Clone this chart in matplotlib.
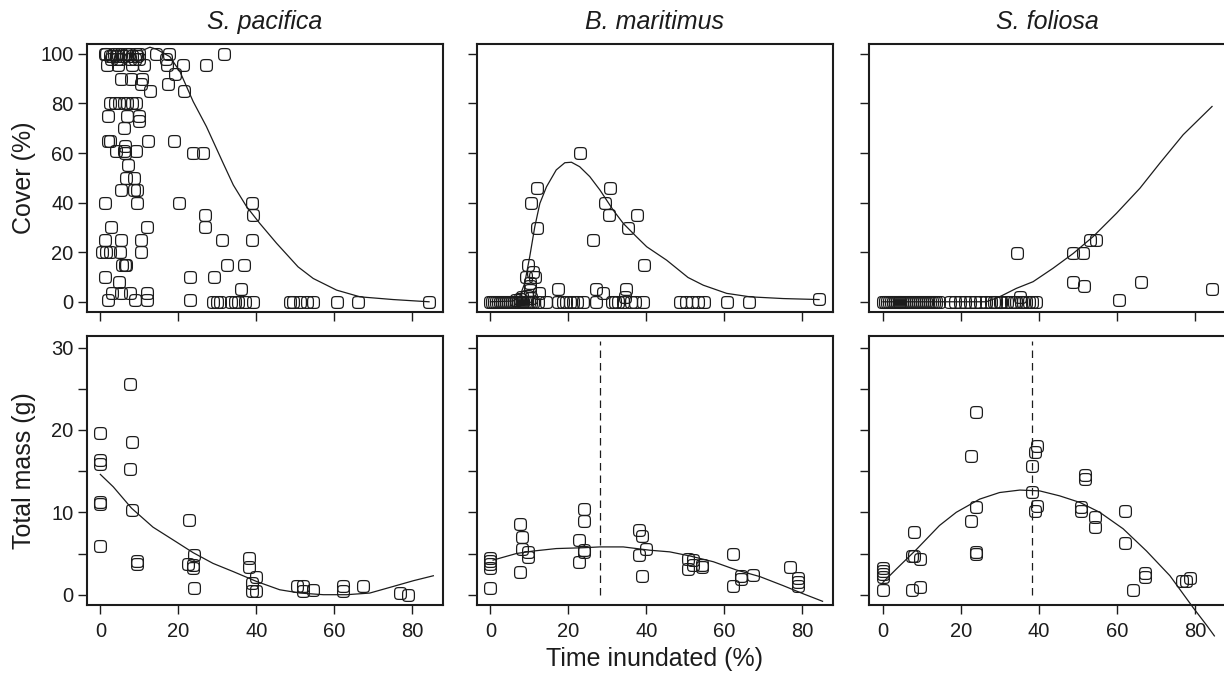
import numpy as np
import matplotlib
matplotlib.use("Agg")
import matplotlib.pyplot as plt
from matplotlib.path import Path

plt.rcParams['font.family'] = ['Liberation Sans', 'DejaVu Sans']

# ---- data: cover (%) vs time inundated (%) ----
pac_cover_x = [1.1, 1.4, 3.5, 4.4, 5.2, 6.5, 7.3, 9.1, 9.9, 14.2, 17.6, 31.7, 2.5, 3.0, 4.0, 5.8, 8.0, 9.5,
               2.8, 4.2, 5.0, 7.7, 8.8, 10.0, 16.8,
               1.8, 4.4, 8.2, 11.2, 17.2, 21.1, 27.0,
               19.2, 5.2, 7.8, 10.8, 10.3, 17.3, 12.7, 21.5,
               2.6, 3.7, 4.8, 6.1, 6.9, 8.2, 9.2,
               2.0, 6.9, 9.9, 9.9, 6.1,
               2.0, 2.4, 12.2, 18.9, 6.4, 3.9, 6.1, 9.1, 6.2, 23.8, 26.2,
               7.1, 6.7, 8.6, 5.4, 8.6, 9.4,
               1.3, 9.5, 20.2, 38.8, 26.8, 39.2, 2.7, 12.0, 26.8,
               1.3, 5.4, 10.3, 31.2, 38.8,
               0.5, 1.5, 2.4, 5.1, 10.3,
               5.6, 6.2, 6.7, 32.5, 36.8,
               1.3, 22.9, 29.2, 4.8, 36.0,
               3.1, 5.4, 7.7, 12.0,
               2.0, 8.8, 12.0, 22.9,
               28.9, 29.8, 30.6, 33.6, 34.5, 35.3, 37.1, 39.2, 48.6, 49.5, 51.2, 52.9, 54.6, 60.6, 66.2, 84.3]
pac_cover_y = [100, 100, 100, 100, 100, 100, 100, 100, 100, 100, 100, 100, 99, 99, 99, 99, 99, 99,
               98, 98, 98, 98, 98, 98, 98,
               95.5, 95.5, 95.5, 95.5, 95.5, 95.5, 95.5,
               92, 90, 90, 90, 88, 88, 85, 85,
               80, 80, 80, 80, 80, 80, 80,
               75, 75, 75, 73, 70,
               65, 65, 65, 65, 63, 61, 61, 61, 60, 60, 60,
               55, 50, 50, 45, 45, 45,
               40, 40, 40, 40, 35, 35, 30, 30, 30,
               25, 25, 25, 25, 25,
               20, 20, 20, 20, 20,
               15, 15, 15, 15, 15,
               10, 10, 10, 8, 5,
               3.4, 3.4, 3.4, 3.4,
               0.7, 0.7, 0.7, 0.7,
               0, 0, 0, 0, 0, 0, 0, 0, 0, 0, 0, 0, 0, 0, 0, 0]

mar_cover_x = [23.1, 12.0, 30.6, 10.3, 29.4, 30.4, 37.5, 12.0, 35.3, 26.4, 9.7, 39.4, 11.0, 9.2, 11.4,
               10.1, 10.1, 10.1, 12.5, 17.4, 27.0, 34.7, 28.9, 8.0, 34.5, 9.5, 10.5, 6.5, 7.5,
               0.0, 0.5, 1.0, 1.5, 2.0, 2.5, 3.0, 3.5, 4.0, 4.5, 5.0, 5.5, 6.0, 6.5, 7.0, 7.5, 8.0, 8.5,
               9.0, 9.5, 10.0, 10.5, 11.0,
               12.2, 14.4, 17.4, 18.7, 19.5, 20.4, 21.2, 22.1, 23.8, 27.0, 31.1, 31.9, 32.8, 34.1,
               36.2, 37.1, 39.2, 48.6, 50.3, 51.6, 53.3, 54.8, 60.6, 66.3, 84.3]
mar_cover_y = [60.2, 45.8, 45.8, 39.7, 39.7, 35, 35, 29.9, 29.9, 24.9, 14.8, 14.8, 12.1, 10, 10,
               7.5, 6.2, 4.8, 3.4, 5, 5, 5, 3.6, 2, 2, 2.5, 1.5, 0.8, 1.2,
               0, 0, 0, 0, 0, 0, 0, 0, 0, 0, 0, 0, 0, 0, 0, 0, 0, 0,
               0, 0, 0, 0, 0,
               0, 0, 0, 0, 0, 0, 0, 0, 0, 0, 0, 0, 0, 0,
               0, 0, 0, 0, 0, 0, 0, 0, 0, 0, 1]

fol_cover_x = [34.5, 48.8, 51.2, 53.0, 54.6, 48.8, 66.1, 51.5, 84.4, 35.2, 60.6,
               0.0, 0.5, 1.0, 1.5, 2.0, 2.5, 3.0, 3.5, 4.0, 4.5, 5.0, 5.5, 6.0, 6.5, 7.0, 7.5, 8.0,
               8.5, 9.0, 9.5, 10.0, 10.5, 11.0, 11.5, 12.0, 12.5, 13.0, 13.5, 14.5,
               17.1, 18.4, 19.7, 21.0, 22.2, 23.5, 25.0, 26.5, 27.8, 28.5, 29.1, 30.0, 30.4, 31.7,
               32.9, 33.5, 34.2, 35.5, 36.0, 36.8, 37.5, 38.1, 39.3]
fol_cover_y = [19.8, 19.8, 19.8, 24.9, 24.9, 8.1, 8.1, 6.3, 5, 2, 0.7,
               0, 0, 0, 0, 0, 0, 0, 0, 0, 0, 0, 0, 0, 0, 0, 0, 0,
               0, 0, 0, 0, 0, 0, 0, 0, 0, 0, 0, 0,
               0, 0, 0, 0, 0, 0, 0, 0, 0, 0, 0, 0, 0, 0,
               0, 0, 0, 0, 0, 0, 0, 0, 0]

# fitted cover curves
pac_cover_fit_x = [11.1, 12.7, 14.4, 17.8, 20.4, 23.8, 27.2, 31.5, 34.1, 37.5, 40.9, 45.2, 50.7, 54.6, 60.6, 66.6, 75.1, 84.3]
pac_cover_fit_y = [101.6, 102.7, 101.9, 98.9, 92.9, 80.8, 70.7, 55.9, 47.1, 38.4, 31.6, 23.6, 14.1, 9.4, 4.7, 2.0, 0.9, 0.0]
mar_cover_fit_x = [0.0, 5.8, 7.5, 8.8, 10.1, 11.4, 12.7, 14.4, 16.9, 19.1, 20.8, 22.9, 25.5, 28.1, 31.5, 34.1,
                   37.5, 40.1, 45.2, 50.7, 54.6, 60.6, 66.6, 75.1, 84.3]
mar_cover_fit_y = [0.0, 0.3, 2.0, 7.4, 18.2, 30.3, 39.7, 46.4, 53.2, 56.1, 56.3, 54.5, 50.5, 45.1, 37.0, 31.6,
                   26.2, 22.2, 16.8, 9.8, 6.7, 3.4, 2.0, 1.3, 0.9]
fol_cover_fit_x = [0.0, 26.5, 29.9, 34.2, 38.5, 43.6, 48.8, 53.9, 59.9, 65.9, 71.0, 77.0, 84.4]
fol_cover_fit_y = [0.0, 0.0, 2.0, 5.4, 8.1, 13.5, 19.5, 26.3, 35.7, 45.8, 55.9, 67.4, 78.8]

# ---- data: total mass (g) vs time inundated (%) ----
pac_mass_x = [7.5, 0, 8.0, 0, 0, 7.5, 0, 0, 8.0, 22.7, 0, 9.5, 9.5, 24.0, 22.5, 23.8, 23.8, 24.0,
              38.1, 38.1, 39.8, 38.9, 38.9, 39.8, 50.5, 52.0, 52.0, 54.6, 62.3, 62.3, 67.4, 76.8, 79.0]
pac_mass_y = [25.6, 19.6, 18.5, 16.3, 15.9, 15.3, 11.2, 11.0, 10.3, 9.1, 5.9, 4.1, 3.7, 4.8, 3.7, 3.6, 3.3, 0.8,
              4.5, 3.4, 2.1, 1.4, 0.4, 0.4, 1.1, 1.1, 0.4, 0.6, 1.1, 0.5, 1.1, 0.2, 0.0]
mar_mass_x = [0, 0, 0, 0, 0, 7.7, 8.1, 8.0, 7.7, 9.7, 9.7, 24.0, 24.0, 22.8, 24.0, 24.0, 22.8,
              38.2, 39.0, 39.9, 38.2, 39.0, 50.7, 50.7, 52.0, 52.0, 54.3, 54.3, 62.3, 62.3, 64.3, 64.3,
              67.4, 76.8, 79.0, 79.0, 79.0]
mar_mass_y = [0.8, 4.5, 4.1, 3.7, 3.3, 8.6, 7.0, 5.6, 2.8, 5.2, 4.6, 10.4, 8.9, 6.7, 5.4, 5.2, 4.0,
              7.8, 7.1, 5.6, 4.8, 2.3, 4.3, 3.1, 4.2, 3.6, 3.6, 3.4, 4.9, 1.1, 2.3, 1.9,
              2.4, 3.4, 2.0, 1.6, 1.1]
fol_mass_x = [0, 0, 0, 0, 0, 7.5, 8.0, 7.5, 8.0, 9.6, 9.6, 23.8, 22.7, 23.8, 22.7, 23.8, 23.8,
              39.6, 38.9, 38.1, 38.1, 39.6, 38.9, 51.9, 51.9, 50.7, 50.7, 54.3, 54.3, 62.2, 62.2, 64.2,
              67.3, 67.3, 76.6, 77.7, 78.7]
fol_mass_y = [0.6, 3.3, 2.9, 2.5, 2.1, 0.6, 7.6, 4.7, 4.7, 4.3, 0.9, 22.2, 16.8, 10.7, 9.0, 5.2, 5.0,
              18.1, 17.3, 15.6, 12.5, 10.8, 10.1, 14.5, 14.1, 10.7, 10.2, 9.4, 8.2, 10.1, 6.3, 0.6,
              2.6, 2.1, 1.7, 1.7, 2.0]

pac_mass_fit_x = [0, 3.3, 8.0, 13.5, 19.5, 23.8, 28.9, 34.1, 40.1, 46.0, 51.2, 57.2, 63.2, 69.1, 75.1, 80.3, 85.4]
pac_mass_fit_y = [14.6, 13.1, 10.5, 8.2, 6.4, 5.1, 3.8, 2.8, 1.6, 0.6, 0.2, 0.0, 0.0, 0.2, 1.0, 1.7, 2.3]
mar_mass_fit_x = [0.7, 6.7, 11.0, 16.9, 23.8, 28.1, 34.1, 40.9, 46.0, 51.2, 57.2, 63.1, 69.1, 75.1, 80.3, 85.2]
mar_mass_fit_y = [4.2, 5.0, 5.3, 5.6, 5.7, 5.8, 5.8, 5.4, 5.2, 4.7, 4.0, 3.0, 2.2, 1.1, 0.1, -0.8]
fol_mass_fit_x = [0, 3.4, 8.6, 14.5, 18.8, 24.8, 29.9, 35.1, 40.2, 45.3, 50.5, 55.6, 61.6, 67.6, 73.6, 79.6, 83.0, 85.0]
fol_mass_fit_y = [1.5, 3.1, 5.5, 8.4, 10.0, 11.6, 12.4, 12.7, 12.6, 12.0, 11.2, 10.0, 8.0, 5.3, 2.3, -1.6, -3.7, -5.0]

mar_mass_peak = 28.2
fol_mass_peak = 38.1

species = ['S. pacifica', 'B. maritimus', 'S. foliosa']
cover_pts = [(pac_cover_x, pac_cover_y), (mar_cover_x, mar_cover_y), (fol_cover_x, fol_cover_y)]
cover_fits = [(pac_cover_fit_x, pac_cover_fit_y), (mar_cover_fit_x, mar_cover_fit_y), (fol_cover_fit_x, fol_cover_fit_y)]
mass_pts = [(pac_mass_x, pac_mass_y), (mar_mass_x, mar_mass_y), (fol_mass_x, fol_mass_y)]
mass_fits = [(pac_mass_fit_x, pac_mass_fit_y), (mar_mass_fit_x, mar_mass_fit_y), (fol_mass_fit_x, fol_mass_fit_y)]
mass_peaks = [None, mar_mass_peak, fol_mass_peak]

# rounded-square open marker
t = np.linspace(0, 2 * np.pi, 73)
c, s = np.cos(t), np.sin(t)
verts = np.column_stack([np.sign(c) * np.abs(c) ** 0.5, np.sign(s) * np.abs(s) ** 0.5])
rsquare = Path(verts, closed=True)

ink = '#1c1c1c'
W, H = 1224, 673
fig = plt.figure(figsize=(W / 100, H / 100), dpi=100)

col_left = [86.7, 476.7, 869.3]
col_w = 356
rows = [(44, 311.7), (336, 605)]


def px_axes(left, top, bottom):
    return fig.add_axes([left / W, 1 - bottom / H, col_w / W, (bottom - top) / H])


def style(ax, show_x, show_y):
    for sp in ax.spines.values():
        sp.set_linewidth(1.5)
        sp.set_color(ink)
    ax.tick_params(direction='out', length=6.5, width=1.0, color=ink, labelsize=14.5,
                   labelcolor=ink, labelbottom=show_x, labelleft=show_y)
    ax.tick_params(axis='x', pad=6)
    ax.tick_params(axis='y', pad=3)
    ax.set_xlim(-3.5, 87.8)
    ax.set_xticks([0, 20, 40, 60, 80])


for j in range(3):
    # cover row
    ax = px_axes(col_left[j], *rows[0])
    px, py = cover_pts[j]
    ax.plot(px, py, linestyle='none', marker=rsquare, markersize=8.5, markerfacecolor='none',
            markeredgecolor=ink, markeredgewidth=0.9)
    fx, fy = cover_fits[j]
    ax.plot(fx, fy, color=ink, lw=0.9)
    ax.set_ylim(-4, 104)
    ax.set_yticks([0, 20, 40, 60, 80, 100])
    style(ax, False, j == 0)
    fig.text((col_left[j] + col_w / 2) / W, 1 - 29 / H, species[j], style='italic',
             fontsize=18, ha='center', va='baseline', color=ink)

    # mass row
    ax = px_axes(col_left[j], *rows[1])
    px, py = mass_pts[j]
    ax.plot(px, py, linestyle='none', marker=rsquare, markersize=8.5, markerfacecolor='none',
            markeredgecolor=ink, markeredgewidth=0.9)
    fx, fy = mass_fits[j]
    ax.plot(fx, fy, color=ink, lw=0.9, clip_on=False)
    if mass_peaks[j] is not None:
        ax.plot([mass_peaks[j], mass_peaks[j]], [0, 30.8], color=ink, lw=0.9,
                linestyle=(0, (6, 4)))
    ax.set_ylim(-1.25, 31.4)
    ax.set_yticks([0, 5, 10, 15, 20, 25, 30])
    ax.set_yticklabels(['0', '', '10', '', '20', '', '30'])
    style(ax, True, j == 0)

fig.text(24 / W, 1 - (rows[0][0] + rows[0][1]) / 2 / H, 'Cover (%)', rotation=90,
         fontsize=18, ha='center', va='center', color=ink)
fig.text(24 / W, 1 - (rows[1][0] + rows[1][1]) / 2 / H, 'Total mass (g)', rotation=90,
         fontsize=18, ha='center', va='center', color=ink)
fig.text((col_left[1] + col_w / 2) / W, 1 - 666 / H, 'Time inundated (%)',
         fontsize=18, ha='center', va='baseline', color=ink)

fig.savefig('out.png', dpi=100)
